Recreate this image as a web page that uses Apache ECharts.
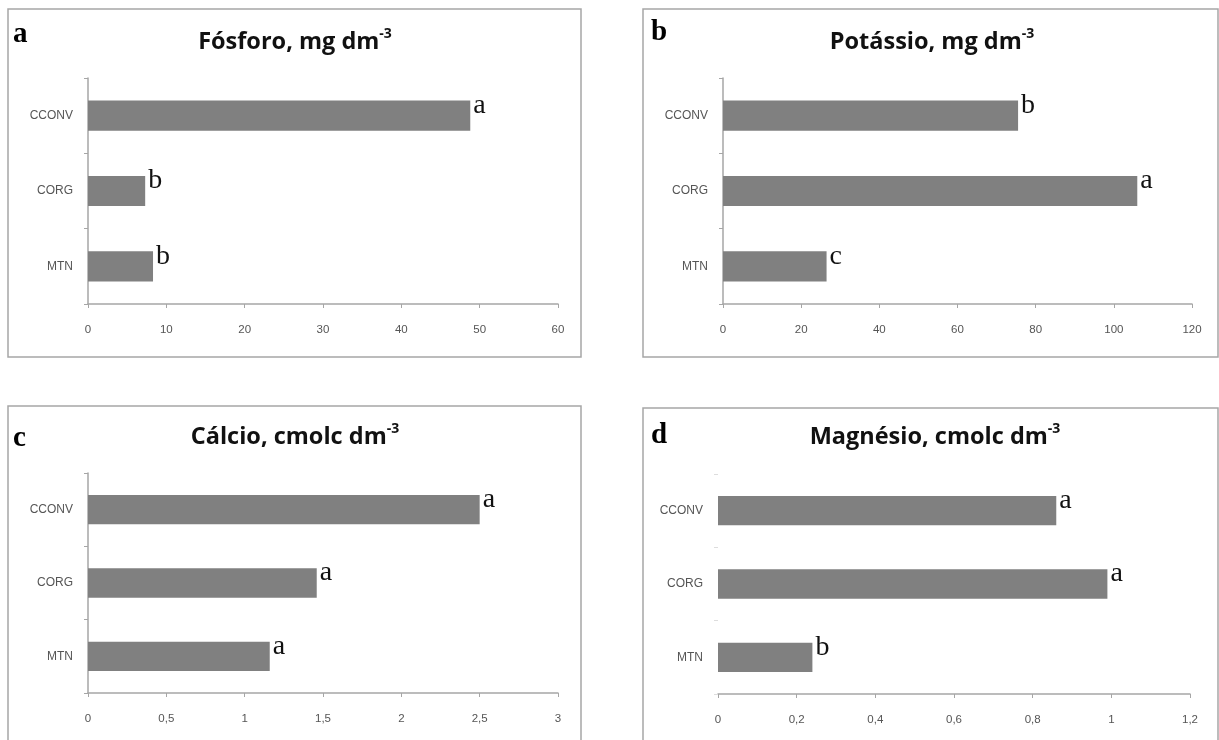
<!DOCTYPE html>
<html>
<head>
<meta charset="utf-8">
<script src="https://cdn.jsdelivr.net/npm/echarts@6/dist/echarts.min.js"></script>
<style>
html,body{margin:0;padding:0;background:#fff;}
#chart{width:1219px;height:740px;}
</style>
</head>
<body>
<div id="chart"></div>
<script>
// ---- data ----
const categories = ['CCONV', 'CORG', 'MTN'];
const fosforo = [48.8, 7.3, 8.3];
const potassio = [75.5, 106, 26.5];
const calcio = [2.5, 1.46, 1.16];
const magnesio = [0.86, 0.99, 0.24];
const fosforoLetters = ['a', 'b', 'b'];
const potassioLetters = ['b', 'a', 'c'];
const calcioLetters = ['a', 'a', 'a'];
const magnesioLetters = ['a', 'a', 'b'];
const panelLetters = ['a', 'b', 'c', 'd'];
const titleNames = ['Fósforo, mg dm', 'Potássio, mg dm', 'Cálcio, cmolc dm', 'Magnésio, cmolc dm'];
const titleSup = ['-3', '-3', '-3', '-3'];
const axisMax = [60, 120, 3, 1.2];
const axisInterval = [10, 20, 0.5, 0.2];

// ---- layout (not data) ----
const panels = [
  {frame: [8, 9, 573, 348], grid: {left: 88, top: 78, width: 470, height: 226}, titleX: 295, titleY: 27, letterX: 13, letterY: 20, yLine: true},
  {frame: [643, 9, 575, 348], grid: {left: 723, top: 78, width: 469, height: 226}, titleX: 932, titleY: 27, letterX: 651, letterY: 18, yLine: true},
  {frame: [8, 406, 573, 360], grid: {left: 88, top: 473, width: 470, height: 220}, titleX: 295, titleY: 422, letterX: 13, letterY: 424, yLine: true},
  {frame: [643, 408, 575, 360], grid: {left: 718, top: 474, width: 472, height: 220}, titleX: 935, titleY: 422, letterX: 651, letterY: 421, yLine: false}
];
const values = [fosforo, potassio, calcio, magnesio];
const letters = [fosforoLetters, potassioLetters, calcioLetters, magnesioLetters];

const axisColor = '#a6a6a6';
const option = {
  animation: false,
  backgroundColor: '#fff',
  title: [],
  grid: [],
  xAxis: [],
  yAxis: [],
  series: [],
  graphic: []
};

panels.forEach((p, i) => {
  option.graphic.push({
    type: 'rect',
    shape: {x: p.frame[0], y: p.frame[1], width: p.frame[2], height: p.frame[3]},
    style: {fill: 'none', stroke: axisColor, lineWidth: 1.5},
    silent: true
  });
  option.title.push({
    text: '{t|' + titleNames[i] + '}{s|' + titleSup[i] + '}',
    left: p.titleX, top: p.titleY, textAlign: 'center', padding: 0,
    textStyle: {
      rich: {
        t: {fontFamily: 'Open Sans', fontWeight: 'bold', fontSize: 23.5, color: '#111', lineHeight: 30},
        s: {fontFamily: 'Open Sans', fontWeight: 'bold', fontSize: 14, color: '#111', verticalAlign: 'top', lineHeight: 25}
      }
    }
  });
  option.title.push({
    text: panelLetters[i],
    left: p.letterX, top: p.letterY, padding: 0,
    textStyle: {fontFamily: 'Liberation Serif', fontWeight: 'bold', fontSize: 29, color: '#000'}
  });
  option.grid.push(Object.assign({containLabel: false}, p.grid));
  option.xAxis.push({
    type: 'value', gridIndex: i, min: 0, max: axisMax[i], interval: axisInterval[i],
    splitLine: {show: false},
    axisLine: {show: true, lineStyle: {color: axisColor, width: 1.5}},
    axisTick: {show: true, length: 4, lineStyle: {color: axisColor}},
    axisLabel: {
      margin: 20, fontSize: 11.5, color: '#555', fontFamily: 'Liberation Sans',
      formatter: v => String(+v.toFixed(2)).replace('.', ',')
    }
  });
  option.yAxis.push({
    type: 'category', gridIndex: i, data: categories, inverse: true,
    axisLine: {show: p.yLine, lineStyle: {color: axisColor, width: 1.5}},
    axisTick: {show: true, length: 4, lineStyle: {color: p.yLine ? axisColor : '#ddd'}},
    axisLabel: {margin: 15, fontSize: 12, color: '#555', fontFamily: 'Liberation Sans'}
  });
  option.series.push({
    type: 'bar', xAxisIndex: i, yAxisIndex: i, data: values[i],
    barWidth: '40%',
    itemStyle: {color: '#808080'},
    label: {
      show: true, position: 'right', distance: 3, offset: [0, -10],
      fontFamily: 'Liberation Serif', fontSize: 28, color: '#111',
      formatter: (pr) => letters[i][pr.dataIndex]
    }
  });
});

const chart = echarts.init(document.getElementById('chart'), null, {renderer: 'canvas'});
chart.setOption(option);
</script>
</body>
</html>
